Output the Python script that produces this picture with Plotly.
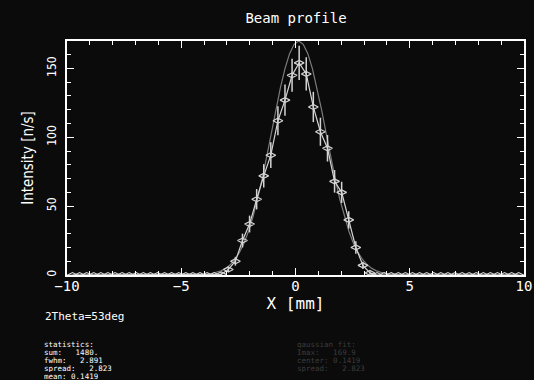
import plotly.graph_objects as go

# ---- data ----
x_pos = [-9.76, -9.45, -9.14, -8.83, -8.52, -8.21, -7.90, -7.59, -7.28, -6.97,
         -6.66, -6.35, -6.04, -5.73, -5.42, -5.11, -4.80, -4.49, -4.18, -3.87,
         -3.56, -3.25, -2.94, -2.63, -2.32, -2.01, -1.70, -1.39, -1.08, -0.77,
         -0.46, -0.15, 0.16, 0.47, 0.78, 1.09, 1.40, 1.71, 2.02, 2.33,
         2.64, 2.95, 3.26, 3.57, 3.88, 4.19, 4.50, 4.81, 5.12, 5.43,
         5.74, 6.05, 6.36, 6.67, 6.98, 7.29, 7.60, 7.91, 8.22, 8.53,
         8.84, 9.15, 9.46, 9.77]
intensity = [0, 0, 0, 0, 0, 0, 0, 0, 0, 0,
             0, 0, 0, 0, 0, 0, 0, 0, 0, 0,
             0, 0.5, 4, 10, 25, 37, 55, 72, 87, 112,
             127, 145, 154, 146, 122, 104, 92, 68, 60, 40,
             20, 7, 1.5, 0, 0, 0, 0, 0, 0, 0,
             0, 0, 0, 0, 0, 0, 0, 0, 0, 0,
             0, 0, 0, 0]
errors = [0, 0, 0, 0, 0, 0, 0, 0, 0, 0,
          0, 0, 0, 0, 0, 0, 0, 0, 0, 0,
          0, 0.7, 2, 3.2, 5, 6.1, 7.4, 8.5, 9.3, 10.6,
          11.3, 12, 12.4, 12.1, 11, 10.2, 9.6, 8.2, 7.7, 6.3,
          4.5, 2.6, 1.2, 0, 0, 0, 0, 0, 0, 0,
          0, 0, 0, 0, 0, 0, 0, 0, 0, 0,
          0, 0, 0, 0]

# gaussian fit curve
fit_x = [-10.0, -4.26, -3.86, -3.66, -3.46, -3.26, -3.06, -2.86, -2.66, -2.46,
         -2.26, -2.06, -1.86, -1.66, -1.46, -1.26, -1.06, -0.86, -0.66, -0.46,
         -0.26, -0.06, 0.14, 0.34, 0.54, 0.74, 0.94, 1.14, 1.34, 1.54,
         1.74, 1.94, 2.14, 2.34, 2.54, 2.74, 2.94, 3.14, 3.34, 3.54,
         3.74, 3.94, 4.14, 4.54, 10.0]
fit_y = [0, 0.2, 0.65, 1.1, 1.9, 3.0, 4.8, 7.4, 11.1, 16.2,
         22.9, 31.6, 42.3, 55.0, 69.7, 85.9, 103.0, 120.0, 136.0, 149.9,
         160.7, 167.5, 169.9, 167.5, 160.7, 149.9, 136.0, 120.0, 103.0, 85.9,
         69.7, 55.0, 42.3, 31.6, 22.9, 16.2, 11.1, 7.4, 4.8, 3.0,
         1.9, 1.1, 0.65, 0.2, 0]

title_text = "Beam profile"
x_title = "X [mm]"
y_title = "Intensity [n/s]"
x_range = [-10, 10]
y_range = [0, 169.9]

stats_lines = ["statistics:", "sum:\u00a0\u00a0\u00a01480.", "fwhm:\u00a0\u00a0\u00a02.891",
               "spread:\u00a0\u00a0\u00a02.823", "mean:\u00a00.1419"]
fit_lines = ["gaussian\u00a0fit:", "Imax:\u00a0\u00a0\u00a0169.9", "center:\u00a00.1419",
             "spread:\u00a0\u00a0\u00a02.823"]
angle_text = "2Theta=53deg"

BG = "#0b0b0b"
FG = "#ffffff"
DATA = "#d4d4d4"
FIT = "#7c7c7c"
DIM = "#3c3c3c"
MONO = "DejaVu Sans Mono, monospace"
NARROW = "Liberation Sans Narrow, DejaVu Sans Condensed, Arial Narrow, sans-serif"

W, H = 534, 380
L, R, T, B = 67, 10, 41, 105
PW, PH = W - L - R, H - T - B


def px(xp):
    return (xp - L) / PW


def py(yp):
    return (H - B - yp) / PH


fig = go.Figure()

fig.add_trace(go.Scatter(
    x=fit_x, y=fit_y, mode="lines",
    line=dict(color=FIT, width=1.2), hoverinfo="skip", showlegend=False))

fig.add_trace(go.Scatter(
    x=x_pos, y=intensity, mode="lines+markers",
    line=dict(color=DATA, width=1.2),
    marker=dict(symbol="diamond-wide-open", size=7, color=DATA, line=dict(width=1.2, color=DATA)),
    error_y=dict(type="data", array=errors, visible=True, color=DATA, thickness=1.5, width=0),
    showlegend=False))

axis_common = dict(
    showgrid=False, zeroline=False, showline=True, linecolor=FG, linewidth=1.5,
    mirror="ticks", ticks="inside", tickcolor=FG, tickwidth=1.2, automargin=False,
)

fig.update_xaxes(
    **axis_common, range=x_range, dtick=5, ticklen=7,
    minor=dict(dtick=1, ticks="inside", ticklen=4, tickcolor=FG, tickwidth=1.2),
    tickfont=dict(family=MONO, size=14, color=FG), ticklabelstandoff=-3,
    title=dict(text=x_title, font=dict(family=MONO, size=16, color=FG), standoff=2),
)
fig.update_yaxes(
    **axis_common, range=y_range, dtick=50, ticklen=7,
    minor=dict(dtick=10, ticks="inside", ticklen=4, tickcolor=FG, tickwidth=1.2),
    tickangle=-90,
    tickfont=dict(family=NARROW, size=12, color=FG), ticklabelstandoff=4,
    title=dict(text=y_title, font=dict(family=NARROW, size=15, color=FG), standoff=8),
)

ann = []
ann.append(dict(text=angle_text, x=px(43), y=py(316), xref="paper", yref="paper",
                xanchor="left", yanchor="middle", showarrow=False,
                font=dict(family=MONO, size=11, color=FG)))
for i, s in enumerate(stats_lines):
    ann.append(dict(text=s, x=px(43), y=py(344 + 8 * i), xref="paper", yref="paper",
                    xanchor="left", yanchor="middle", showarrow=False, height=8,
                    borderpad=0, font=dict(family=MONO, size=7.5, color=FG)))
for i, s in enumerate(fit_lines):
    ann.append(dict(text=s, x=px(296), y=py(344 + 8 * i), xref="paper", yref="paper",
                    xanchor="left", yanchor="middle", showarrow=False, height=8,
                    borderpad=0, font=dict(family=MONO, size=7.5, color=DIM)))

fig.update_layout(
    width=W, height=H,
    margin=dict(l=L, r=R, t=T, b=B, autoexpand=False),
    paper_bgcolor=BG, plot_bgcolor=BG,
    title=dict(text=title_text, x=(296) / W, xanchor="center", y=1 - 18 / H, yanchor="middle",
               font=dict(family=MONO, size=14, color=FG)),
    annotations=ann,
    showlegend=False,
)

fig.write_html("out.html", config={"displayModeBar": False},
               post_script="document.body.style.margin='0';document.body.style.overflow='hidden';")
